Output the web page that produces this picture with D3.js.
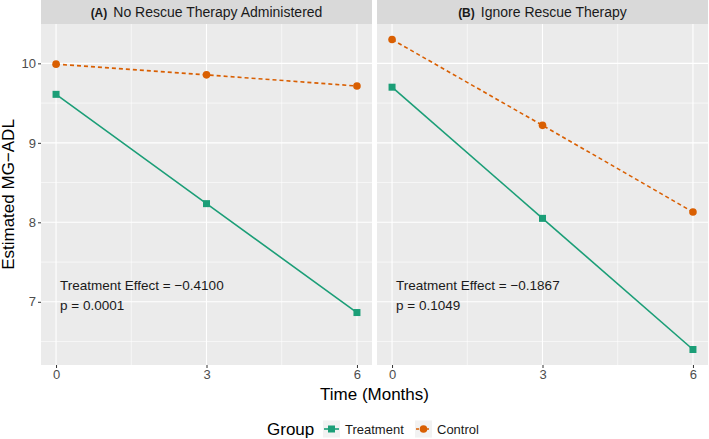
<!DOCTYPE html>
<html>
<head>
<meta charset="utf-8">
<script src="https://cdn.jsdelivr.net/npm/d3@7"></script>
<style>
  body { margin: 0; background: #fff; }
  text { font-family: "Liberation Sans", Arial, sans-serif; }
</style>
</head>
<body>
<div id="chart"></div>
<script>
"use strict";

// data
var months = [0, 3, 6];
var panelTitles = ["No Rescue Therapy Administered", "Ignore Rescue Therapy"];
var panelTags = ["(A)", "(B)"];
var treatmentA = [9.61, 8.235, 6.865];
var controlA = [9.99, 9.855, 9.715];
var treatmentB = [9.70, 8.05, 6.40];
var controlB = [10.30, 9.22, 8.13];
var effects = ["Treatment Effect = \u22120.4100", "Treatment Effect = \u22120.1867"];
var pvalues = ["p = 0.0001", "p = 0.1049"];
var yTicks = [7, 8, 9, 10];
var groups = ["Treatment", "Control"];
var colors = ["#1b9e77", "#d95f02"];

var W = 709, H = 439;
var panelTop = 24, panelBottom = 365;
var panels = [{left: 41, right: 372}, {left: 377, right: 708}];
var stripH = 24;

var svg = d3.select("#chart").append("svg")
  .attr("width", W).attr("height", H);

var y = d3.scaleLinear().domain([6.205, 10.495]).range([panelBottom, panelTop]);

var series = [[treatmentA, controlA], [treatmentB, controlB]];

panels.forEach(function(p, i) {
  var x = d3.scaleLinear().domain([-0.3, 6.3]).range([p.left, p.right]);
  var g = svg.append("g");

  // strip
  g.append("rect").attr("x", p.left).attr("y", 0)
    .attr("width", p.right - p.left).attr("height", stripH).attr("fill", "#d9d9d9");
  var st = g.append("text").attr("x", (p.left + p.right) / 2).attr("y", 17)
    .attr("text-anchor", "middle").attr("fill", "#1a1a1a");
  st.append("tspan").attr("font-weight", "bold").attr("font-size", 12).text(panelTags[i]);
  st.append("tspan").attr("font-size", 14).attr("dx", 6).text(panelTitles[i]);

  // panel
  g.append("rect").attr("x", p.left).attr("y", panelTop)
    .attr("width", p.right - p.left).attr("height", panelBottom - panelTop).attr("fill", "#ebebeb");

  // minor grid
  [1.5, 4.5].forEach(function(v) {
    g.append("line").attr("x1", x(v)).attr("x2", x(v)).attr("y1", panelTop).attr("y2", panelBottom)
      .attr("stroke", "#fff").attr("stroke-width", 0.6);
  });
  [6.5, 7.5, 8.5, 9.5].forEach(function(v) {
    g.append("line").attr("x1", p.left).attr("x2", p.right).attr("y1", y(v)).attr("y2", y(v))
      .attr("stroke", "#fff").attr("stroke-width", 0.6);
  });
  // major grid
  months.forEach(function(v) {
    g.append("line").attr("x1", x(v)).attr("x2", x(v)).attr("y1", panelTop).attr("y2", panelBottom)
      .attr("stroke", "#fff").attr("stroke-width", 1.1);
  });
  yTicks.forEach(function(v) {
    g.append("line").attr("x1", p.left).attr("x2", p.right).attr("y1", y(v)).attr("y2", y(v))
      .attr("stroke", "#fff").attr("stroke-width", 1.1);
  });

  // x axis
  var xa = g.append("g").attr("transform", "translate(0," + panelBottom + ")")
    .call(d3.axisBottom(x).tickValues(months).tickFormat(d3.format("d")).tickSize(3).tickPadding(2));
  xa.select(".domain").remove();
  xa.selectAll("line").attr("stroke", "#333");
  xa.selectAll("text").attr("font-size", 13).attr("fill", "#4d4d4d");

  // lines & points
  series[i].forEach(function(vals, k) {
    var pts = months.map(function(m, j) { return [m, vals[j]]; });
    g.append("path").datum(pts)
      .attr("d", d3.line().x(function(d) { return x(d[0]); }).y(function(d) { return y(d[1]); }))
      .attr("fill", "none").attr("stroke", colors[k]).attr("stroke-width", 1.6)
      .attr("stroke-dasharray", k === 1 ? "4,3" : null);
    pts.forEach(function(d) {
      if (k === 0) {
        g.append("rect").attr("x", x(d[0]) - 3.5).attr("y", y(d[1]) - 3.5)
          .attr("width", 7).attr("height", 7).attr("fill", colors[k]);
      } else {
        g.append("circle").attr("cx", x(d[0])).attr("cy", y(d[1])).attr("r", 3.8).attr("fill", colors[k]);
      }
    });
  });

  // annotations
  g.append("text").attr("x", x(0) + 4).attr("y", y(7.15)).attr("font-size", 13.5)
    .attr("fill", "#1a1a1a").text(effects[i]);
  g.append("text").attr("x", x(0) + 4).attr("y", y(6.9)).attr("font-size", 13.5)
    .attr("fill", "#1a1a1a").text(pvalues[i]);

  // y axis on first panel
  if (i === 0) {
    var ya = g.append("g").attr("transform", "translate(" + p.left + ",0)")
      .call(d3.axisLeft(y).tickValues(yTicks).tickFormat(d3.format("d")).tickSize(3).tickPadding(2));
    ya.select(".domain").remove();
    ya.selectAll("line").attr("stroke", "#333");
    ya.selectAll("text").attr("font-size", 13).attr("fill", "#4d4d4d");
  }
});

// axis titles
svg.append("text").attr("transform", "translate(14," + (panelTop + panelBottom) / 2 + ") rotate(-90)")
  .attr("text-anchor", "middle").attr("font-size", 17).attr("fill", "#000").text("Estimated MG\u2212ADL");
svg.append("text").attr("x", (panels[0].left + panels[1].right) / 2).attr("y", 400)
  .attr("text-anchor", "middle").attr("font-size", 17).attr("fill", "#000").text("Time (Months)");

// legend
var lg = svg.append("g").attr("transform", "translate(267,429)");
lg.append("text").attr("x", 0).attr("y", 6).attr("font-size", 17).attr("fill", "#000").text("Group");
var keyX = [56, 148];
groups.forEach(function(name, k) {
  var kg = lg.append("g").attr("transform", "translate(" + keyX[k] + ",0)");
  kg.append("rect").attr("x", 0).attr("y", -8.5).attr("width", 17).attr("height", 17).attr("fill", "#f2f2f2");
  kg.append("line").attr("x1", 1).attr("x2", 16).attr("y1", 0).attr("y2", 0)
    .attr("stroke", colors[k]).attr("stroke-width", 1.6).attr("stroke-dasharray", k === 1 ? "3,2" : null);
  if (k === 0) {
    kg.append("rect").attr("x", 5).attr("y", -3.5).attr("width", 7).attr("height", 7).attr("fill", colors[k]);
  } else {
    kg.append("circle").attr("cx", 8.5).attr("cy", 0).attr("r", 3.8).attr("fill", colors[k]);
  }
  kg.append("text").attr("x", 22).attr("y", 5).attr("font-size", 13).attr("fill", "#1a1a1a").text(name);
});
</script>
</body>
</html>
